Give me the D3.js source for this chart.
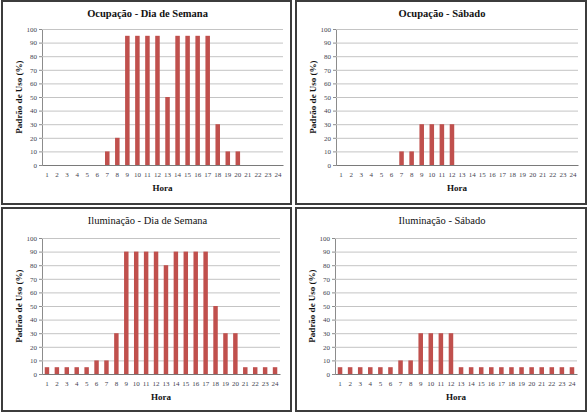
<!DOCTYPE html>
<html>
<head>
<meta charset="utf-8">
<script src="https://cdn.jsdelivr.net/npm/d3@7"></script>
<style>
  html, body { margin: 0; padding: 0; background: #ffffff; }
  svg { display: block; }
</style>
</head>
<body>
<div id="chart"></div>
<script>
// Données : heures et padrão de uso (%)
const horas = d3.range(1, 25);
const yTicks = d3.range(0, 101, 10);

const ocupacaoSemana = [0, 0, 0, 0, 0, 0, 10, 20, 95, 95, 95, 95, 50, 95, 95, 95, 95, 30, 10, 10, 0, 0, 0, 0];
const ocupacaoSabado = [0, 0, 0, 0, 0, 0, 10, 10, 30, 30, 30, 30, 0, 0, 0, 0, 0, 0, 0, 0, 0, 0, 0, 0];
const iluminacaoSemana = [5, 5, 5, 5, 5, 10, 10, 30, 90, 90, 90, 90, 80, 90, 90, 90, 90, 50, 30, 30, 5, 5, 5, 5];
const iluminacaoSabado = [5, 5, 5, 5, 5, 5, 10, 10, 30, 30, 30, 30, 5, 5, 5, 5, 5, 5, 5, 5, 5, 5, 5, 5];

const titulos = ["Ocupação - Dia de Semana", "Ocupação - Sábado", "Iluminação - Dia de Semana", "Iluminação - Sábado"];
const yTitulo = "Padrão de Uso (%)";
const xTitulo = "Hora";

//---------------------------------------------------------------------------------------

// Mise en page des 4 cadres
const panels = [
  { title: titulos[0], values: ocupacaoSemana, frame: [2, 1, 291, 204], plot: [42, 29, 283, 165], titleW: "bold" },
  { title: titulos[1], values: ocupacaoSabado, frame: [296, 1, 586, 204], plot: [336, 29, 578, 165], titleW: "bold" },
  { title: titulos[2], values: iluminacaoSemana, frame: [2, 208, 291, 411], plot: [42, 238, 280, 374], titleW: "normal" },
  { title: titulos[3], values: iluminacaoSabado, frame: [296, 208, 586, 411], plot: [335, 238, 577, 374], titleW: "normal" },
];

const barColor = "#c0504d";
const font = "'Liberation Serif', 'Times New Roman', serif";

const svg = d3.select("#chart")
  .append("svg")
  .attr("width", 588)
  .attr("height", 413)
  .attr("viewBox", [0, 0, 588, 413]);

panels.forEach(p => {
  const [fx0, fy0, fx1, fy1] = p.frame;
  const [px0, py0, px1, py1] = p.plot;
  const g = svg.append("g");

  // cadre
  g.append("rect")
    .attr("x", fx0).attr("y", fy0)
    .attr("width", fx1 - fx0).attr("height", fy1 - fy0)
    .attr("fill", "#ffffff")
    .attr("stroke", "#3c3c3c")
    .attr("stroke-width", 2);

  // échelles
  const x = d3.scaleBand()
    .domain(horas)
    .range([px0, px1])
    .paddingInner(0.55)
    .paddingOuter(0.275);

  const y = d3.scaleLinear()
    .domain([0, 100])
    .range([py1, py0]);

  // axe Y + grille
  g.append("g")
    .attr("transform", `translate(${px0}, 0)`)
    .call(d3.axisLeft(y).tickValues(yTicks).tickSize(3).tickPadding(2))
    .call(a => a.select(".domain").attr("stroke", "#8c8c8c"))
    .call(a => a.selectAll(".tick line").attr("stroke", "#8c8c8c"))
    .call(a => a.selectAll(".tick line")
      .filter(d => d > 0)
      .clone()
      .attr("x1", 0)
      .attr("x2", px1 - px0)
      .attr("stroke", "#c4c4c4"))
    .call(a => a.selectAll("text")
      .attr("font-family", font)
      .attr("font-size", 7)
      .attr("fill", "#3f3f4f"));

  // barres
  g.append("g")
    .selectAll("rect")
    .data(p.values.map((v, i) => ({ h: horas[i], v })))
    .join("rect")
    .attr("x", d => x(d.h))
    .attr("y", d => y(d.v))
    .attr("width", x.bandwidth())
    .attr("height", d => y(0) - y(d.v))
    .attr("fill", barColor);

  // axe X
  g.append("g")
    .attr("transform", `translate(0, ${py1})`)
    .call(d3.axisBottom(x).tickSize(0).tickPadding(7))
    .call(a => a.select(".domain").attr("stroke", "#7a7a7a").attr("stroke-width", 1.2))
    .call(a => a.selectAll("text")
      .attr("font-family", font)
      .attr("font-size", 7)
      .attr("fill", "#3f3f4f"));

  // titre
  g.append("text")
    .attr("x", (fx0 + fx1) / 2 + 1)
    .attr("y", fy0 + 16)
    .attr("text-anchor", "middle")
    .attr("font-family", font)
    .attr("font-size", 10.5)
    .attr("font-weight", p.titleW)
    .attr("fill", "#111")
    .text(p.title);

  // titre axe X
  g.append("text")
    .attr("x", (px0 + px1) / 2)
    .attr("y", py1 + 26)
    .attr("text-anchor", "middle")
    .attr("font-family", font)
    .attr("font-size", 9)
    .attr("font-weight", "bold")
    .attr("fill", "#111")
    .text(xTitulo);

  // titre axe Y
  g.append("text")
    .attr("transform", `translate(${px0 - 20}, ${(py0 + py1) / 2}) rotate(-90)`)
    .attr("text-anchor", "middle")
    .attr("font-family", font)
    .attr("font-size", 9)
    .attr("font-weight", "bold")
    .attr("fill", "#111")
    .text(yTitulo);
});
</script>
</body>
</html>
